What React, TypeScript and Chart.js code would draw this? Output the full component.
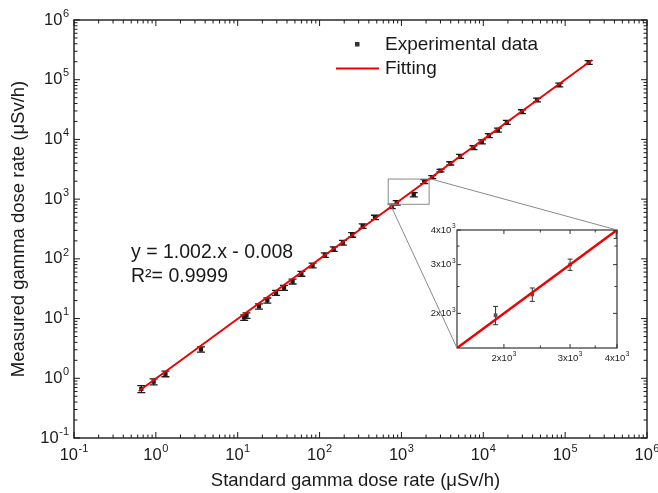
import React, { useEffect, useRef } from 'react';
import { Chart, registerables } from 'chart.js';

Chart.register(...registerables);

// ---------- data ----------
const xStandard = [0.665, 0.94, 1.31, 3.56, 12.0, 12.8, 18.2, 23.0, 29.4, 36.8, 46.8, 60.0, 82.2, 116, 149, 193, 250, 336, 475, 761, 876, 1415, 1900, 2380, 3000, 3950, 5210, 7590, 9610, 11700, 15100, 19400, 29700, 45300, 84800, 194000];
const yMeasured = [0.664, 0.877, 1.19, 3.05, 10.4, 11.3, 16.0, 20.1, 27.0, 32.9, 41.9, 56.4, 77.8, 116, 146, 187, 252, 354, 495, 759, 871, 1190, 1970, 2340, 3000, 3980, 5220, 7280, 9140, 11600, 14400, 19400, 29200, 45800, 81800, 194000];
const yError = [0.09, 0.1, 0.13, 0.3, 1.1, 1.2, 1.6, 2.0, 2.6, 3.2, 4.0, 5.3, 7.2, 10, 13, 17, 22, 30, 42, 65, 75, 100, 150, 130, 140, 250, 400, 550, 700, 900, 1100, 1500, 2200, 3400, 6000, 14000];
const fitX = [0.62, 213000];
const fitY = [0.613, 213426];
const decadeExponents = [-1, 0, 1, 2, 3, 4, 5, 6];
const minorMultipliers = [2, 3, 4, 5, 6, 7, 8, 9];

const insetX = [1900, 2380, 3000, 3980];
const insetY = [1970, 2340, 3000, 3980];
const insetErr = [150, 130, 140, 250];
const insetFitX = [1500, 4000];
const insetFitY = [1500, 4000];
const insetMajorTicks = [2000, 3000, 4000];
const insetMajorMantissa = ['2x10', '3x10', '4x10'];
const insetMajorExp = ['3', '3', '3'];
const insetMinorTicks = [2500, 3500];

const zoomBoxX = [690, 2180];
const zoomBoxY = [820, 2170];

const legendLabels = ['Experimental data', 'Fitting'];
const xTitle = 'Standard gamma dose rate (\u03bcSv/h)';
const yTitle = 'Measured gamma dose rate (\u03bcSv/h)';
const equationLines = ['y = 1.002.x - 0.008', 'R\u00b2= 0.9999'];

// ---------- styles ----------
const FONT = '"Liberation Sans", Arial, Helvetica, sans-serif';
const RED = '#f00000';
const INK = '#1a1a1a';

function drawPow(ctx: CanvasRenderingContext2D, mant: string, exp: string, x: number, y: number, align: 'center' | 'right', bs: number, es: number, color: string) {
  ctx.save();
  ctx.fillStyle = color;
  ctx.font = `${bs}px ${FONT}`;
  const wb = ctx.measureText(mant).width;
  ctx.font = `${es}px ${FONT}`;
  const we = ctx.measureText(exp).width;
  const total = wb + we + 0.5;
  const x0 = align === 'center' ? x - total / 2 : x - total;
  ctx.textAlign = 'left';
  ctx.textBaseline = 'middle';
  ctx.font = `${bs}px ${FONT}`;
  ctx.fillText(mant, x0, y);
  ctx.font = `${es}px ${FONT}`;
  ctx.fillText(exp, x0 + wb + 0.5, y - bs * 0.38);
  ctx.restore();
}

const mainDecor = {
  id: 'mainDecor',
  beforeDatasetsDraw(chart: any) {
    const ctx: CanvasRenderingContext2D = chart.ctx;
    const xs = chart.scales.x;
    const ys = chart.scales.y;
    ctx.save();
    ctx.strokeStyle = INK;
    ctx.lineWidth = 1.3;
    for (let i = 0; i < xStandard.length; i++) {
      const px = xs.getPixelForValue(xStandard[i]);
      const pTop = ys.getPixelForValue(yMeasured[i] + yError[i]);
      const pBot = ys.getPixelForValue(yMeasured[i] - yError[i]);
      ctx.beginPath();
      ctx.moveTo(px, pTop);
      ctx.lineTo(px, pBot);
      ctx.moveTo(px - 4, pTop);
      ctx.lineTo(px + 4, pTop);
      ctx.moveTo(px - 4, pBot);
      ctx.lineTo(px + 4, pBot);
      ctx.stroke();
    }
    ctx.restore();
  },
  afterDatasetsDraw(chart: any) {
    const ctx: CanvasRenderingContext2D = chart.ctx;
    const { left, right, top, bottom } = chart.chartArea;
    const xs = chart.scales.x;
    const ys = chart.scales.y;
    ctx.save();
    // frame
    ctx.strokeStyle = INK;
    ctx.lineWidth = 1.4;
    ctx.strokeRect(left, top, right - left, bottom - top);
    // ticks
    ctx.lineWidth = 1;
    const majorLen = 6;
    const minorLen = 3.5;
    ctx.beginPath();
    decadeExponents.forEach((e, idx) => {
      const v = Math.pow(10, e);
      const px = xs.getPixelForValue(v);
      const py = ys.getPixelForValue(v);
      ctx.moveTo(px, bottom); ctx.lineTo(px, bottom - majorLen);
      ctx.moveTo(px, top); ctx.lineTo(px, top + majorLen);
      ctx.moveTo(left, py); ctx.lineTo(left + majorLen, py);
      ctx.moveTo(right, py); ctx.lineTo(right - majorLen, py);
      if (idx < decadeExponents.length - 1) {
        minorMultipliers.forEach((m) => {
          const mv = m * v;
          const mx = xs.getPixelForValue(mv);
          const my = ys.getPixelForValue(mv);
          ctx.moveTo(mx, bottom); ctx.lineTo(mx, bottom - minorLen);
          ctx.moveTo(mx, top); ctx.lineTo(mx, top + minorLen);
          ctx.moveTo(left, my); ctx.lineTo(left + minorLen, my);
          ctx.moveTo(right, my); ctx.lineTo(right - minorLen, my);
        });
      }
    });
    ctx.stroke();
    // tick labels
    decadeExponents.forEach((e) => {
      const v = Math.pow(10, e);
      drawPow(ctx, '10', String(e), xs.getPixelForValue(v), bottom + 17, 'center', 16.5, 11, INK);
      drawPow(ctx, '10', String(e), left - 5, ys.getPixelForValue(v), 'right', 16.5, 11, INK);
    });
    // axis titles
    ctx.fillStyle = INK;
    ctx.font = `18.5px ${FONT}`;
    ctx.textAlign = 'center';
    ctx.textBaseline = 'middle';
    ctx.fillText(xTitle, (left + right) / 2 - 5, bottom + 43);
    ctx.save();
    ctx.translate(19, (top + bottom) / 2);
    ctx.rotate(-Math.PI / 2);
    ctx.fillText(yTitle, 0, 0);
    ctx.restore();
    // legend
    ctx.fillStyle = '#333';
    ctx.fillRect(355, 42, 4.5, 4.5);
    ctx.strokeStyle = RED;
    ctx.lineWidth = 2;
    ctx.beginPath();
    ctx.moveTo(336, 68.5);
    ctx.lineTo(379, 68.5);
    ctx.stroke();
    ctx.fillStyle = INK;
    ctx.font = `19px ${FONT}`;
    ctx.textAlign = 'left';
    ctx.textBaseline = 'middle';
    ctx.fillText(legendLabels[0], 385, 45);
    ctx.fillText(legendLabels[1], 385, 69);
    // equation
    ctx.font = `19.5px ${FONT}`;
    ctx.fillText(equationLines[0], 131, 253);
    ctx.fillText(equationLines[1], 131, 276.5);
    ctx.restore();
  },
};

export default function App() {
  const mainRef = useRef<HTMLCanvasElement>(null);
  const insetRef = useRef<HTMLCanvasElement>(null);

  useEffect(() => {
    const mainCanvas = mainRef.current as HTMLCanvasElement;
    const insetCanvas = insetRef.current as HTMLCanvasElement;
    const INSET_LEFT = 380;
    const INSET_TOP = 170;

    const main = new Chart(mainCanvas, {
      type: 'scatter',
      data: {
        datasets: [
          {
            label: legendLabels[1],
            data: fitX.map((x, i) => ({ x, y: fitY[i] })),
            showLine: true,
            borderColor: RED,
            borderWidth: 2,
            pointRadius: 0,
            order: 0,
          } as any,
          {
            label: legendLabels[0],
            data: xStandard.map((x, i) => ({ x, y: yMeasured[i] })),
            pointStyle: 'rect',
            pointRadius: 3,
            backgroundColor: INK,
            borderWidth: 0,
            order: 1,
          } as any,
        ],
      },
      options: {
        responsive: false,
        animation: false,
        devicePixelRatio: 1,
        events: [],
        layout: { padding: { top: 20, right: 11, left: 0, bottom: 0 } },
        plugins: { legend: { display: false }, tooltip: { enabled: false } },
        scales: {
          x: {
            type: 'logarithmic',
            min: 0.1,
            max: 1e6,
            ticks: { display: false },
            grid: { display: false },
            border: { display: false },
            afterFit: (s: any) => { s.height = 55; },
          },
          y: {
            type: 'logarithmic',
            min: 0.1,
            max: 1e6,
            ticks: { display: false },
            grid: { display: false },
            border: { display: false },
            afterFit: (s: any) => { s.width = 74; },
          },
        },
      } as any,
      plugins: [mainDecor],
    });

    const insetDecor = {
      id: 'insetDecor',
      beforeDatasetsDraw(chart: any) {
        const ctx: CanvasRenderingContext2D = chart.ctx;
        const { left, right, top, bottom } = chart.chartArea;
        const xs = chart.scales.x;
        const ys = chart.scales.y;
        ctx.save();
        ctx.fillStyle = '#ffffff';
        ctx.fillRect(left, top, right - left, bottom - top);
        ctx.beginPath();
        ctx.rect(left, top, right - left, bottom - top);
        ctx.clip();
        ctx.strokeStyle = '#333';
        ctx.lineWidth = 1;
        for (let i = 0; i < insetX.length; i++) {
          const px = xs.getPixelForValue(insetX[i]);
          const pTop = ys.getPixelForValue(insetY[i] + insetErr[i]);
          const pBot = ys.getPixelForValue(insetY[i] - insetErr[i]);
          ctx.beginPath();
          ctx.moveTo(px, pTop); ctx.lineTo(px, pBot);
          ctx.moveTo(px - 2.5, pTop); ctx.lineTo(px + 2.5, pTop);
          ctx.moveTo(px - 2.5, pBot); ctx.lineTo(px + 2.5, pBot);
          ctx.stroke();
        }
        ctx.restore();
      },
      afterDatasetsDraw(chart: any) {
        const ctx: CanvasRenderingContext2D = chart.ctx;
        const { left, right, top, bottom } = chart.chartArea;
        const xs = chart.scales.x;
        const ys = chart.scales.y;
        ctx.save();
        // frame
        ctx.strokeStyle = '#333';
        ctx.lineWidth = 1.2;
        ctx.strokeRect(left, top, right - left, bottom - top);
        // ticks
        ctx.lineWidth = 1;
        ctx.beginPath();
        const addTick = (v: number, len: number) => {
          const px = xs.getPixelForValue(v);
          const py = ys.getPixelForValue(v);
          ctx.moveTo(px, bottom); ctx.lineTo(px, bottom - len);
          ctx.moveTo(px, top); ctx.lineTo(px, top + len);
          ctx.moveTo(left, py); ctx.lineTo(left + len, py);
          ctx.moveTo(right, py); ctx.lineTo(right - len, py);
        };
        insetMajorTicks.forEach((v) => addTick(v, 4));
        insetMinorTicks.forEach((v) => addTick(v, 2.5));
        ctx.stroke();
        // labels
        insetMajorTicks.forEach((v, i) => {
          drawPow(ctx, insetMajorMantissa[i], insetMajorExp[i], xs.getPixelForValue(v), bottom + 10, 'center', 9.5, 6.5, '#222');
          drawPow(ctx, insetMajorMantissa[i], insetMajorExp[i], left - 1.5, ys.getPixelForValue(v), 'right', 9.5, 6.5, '#222');
        });
        // zoom box and connectors (box in main chart data coordinates)
        const mx = main.scales.x as any;
        const my = main.scales.y as any;
        const bx0 = mx.getPixelForValue(zoomBoxX[0]) - INSET_LEFT;
        const bx1 = mx.getPixelForValue(zoomBoxX[1]) - INSET_LEFT;
        const by0 = my.getPixelForValue(zoomBoxY[0]) - INSET_TOP;
        const by1 = my.getPixelForValue(zoomBoxY[1]) - INSET_TOP;
        ctx.strokeStyle = '#8a8a8a';
        ctx.lineWidth = 1;
        ctx.strokeRect(bx0, by1, bx1 - bx0, by0 - by1);
        ctx.beginPath();
        ctx.moveTo(bx0 + 2, by0);
        ctx.lineTo(left, bottom);
        ctx.moveTo(bx1 + 2, by1);
        ctx.lineTo(right, top);
        ctx.stroke();
        ctx.restore();
      },
    };

    const inset = new Chart(insetCanvas, {
      type: 'scatter',
      data: {
        datasets: [
          {
            label: 'fit',
            data: insetFitX.map((x, i) => ({ x, y: insetFitY[i] })),
            showLine: true,
            borderColor: RED,
            borderWidth: 2.5,
            pointRadius: 0,
            order: 0,
          } as any,
          {
            label: 'data',
            data: insetX.map((x, i) => ({ x, y: insetY[i] })),
            pointStyle: 'rect',
            pointRadius: 2.6,
            backgroundColor: '#555',
            borderWidth: 0,
            order: 1,
          } as any,
        ],
      },
      options: {
        responsive: false,
        animation: false,
        devicePixelRatio: 1,
        events: [],
        layout: { padding: { top: 60, right: 33, left: 0, bottom: 0 } },
        plugins: { legend: { display: false }, tooltip: { enabled: false } },
        scales: {
          x: {
            type: 'logarithmic',
            min: 1500,
            max: 4000,
            ticks: { display: false },
            grid: { display: false },
            border: { display: false },
            afterFit: (s: any) => { s.height = 32; },
          },
          y: {
            type: 'logarithmic',
            min: 1500,
            max: 4000,
            ticks: { display: false },
            grid: { display: false },
            border: { display: false },
            afterFit: (s: any) => { s.width = 77; },
          },
        },
      } as any,
      plugins: [insetDecor],
    });

    return () => {
      inset.destroy();
      main.destroy();
    };
  }, []);

  return (
    <div style={{ position: 'absolute', left: 0, top: 0, width: 658, height: 493, background: '#ffffff' }}>
      <canvas ref={mainRef} width={658} height={493} style={{ position: 'absolute', left: 0, top: 0, width: 658, height: 493 }} />
      <canvas ref={insetRef} width={270} height={210} style={{ position: 'absolute', left: 380, top: 170, width: 270, height: 210 }} />
    </div>
  );
}
